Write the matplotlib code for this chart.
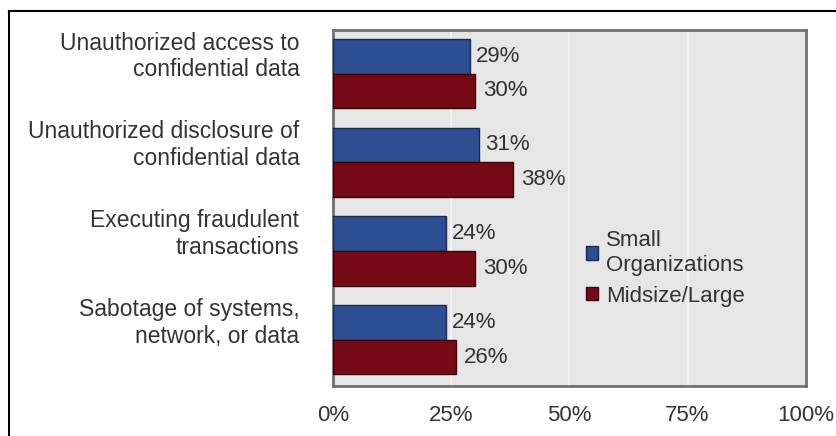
import numpy as np
import matplotlib.pyplot as plt
from matplotlib.lines import Line2D

plt.rcParams['font.family'] = ['Liberation Sans', 'DejaVu Sans']

categories = ['Unauthorized access to\nconfidential data',
              'Unauthorized disclosure of\nconfidential data',
              'Executing fraudulent\ntransactions',
              'Sabotage of systems,\nnetwork, or data']
small = [29, 31, 24, 24]
midsize = [30, 38, 30, 26]
ticks = [0, 25, 50, 75, 100]
tick_labels = ['0%', '25%', '50%', '75%', '100%']

blue = '#2d4e92'
red = '#750a15'

fig = plt.figure(figsize=(8.36, 4.36), dpi=100)
ax = fig.add_axes([0.398, 0.115, 0.566, 0.816])
ax.set_facecolor('#e6e6e6')

y = np.arange(len(categories))
h = 0.39
b1 = ax.barh(y - h / 2, small, height=h, color=blue, edgecolor='#1a2a50', linewidth=1, label='Small\nOrganizations', zorder=3)
b2 = ax.barh(y + h / 2, midsize, height=h, color=red, edgecolor='#3a0508', linewidth=1, label='Midsize/Large', zorder=3)
ax.bar_label(b1, labels=[f'{v}%' for v in small], padding=4, fontsize=16, color='#333333')
ax.bar_label(b2, labels=[f'{v}%' for v in midsize], padding=6, fontsize=16, color='#333333')

ax.set_xlim(0, 100)
ax.set_ylim(3.52, -0.49)
ax.set_xticks(ticks)
ax.set_xticklabels(tick_labels, fontsize=16, color='#333333')
# category labels sit a bit above the middle of each pair
ax.set_yticks(y - 0.24)
ax.set_yticklabels(categories, fontsize=16.5, color='#333333', linespacing=1.2)
ax.tick_params(length=0, pad=24, axis='y')
ax.tick_params(length=0, pad=14, axis='x')
ax.xaxis.grid(True, color='#f8f8f8', linewidth=1.2, zorder=0)
for s in ax.spines.values():
    s.set_color('#707070')
    s.set_linewidth(2)

ax.legend(loc='center left', bbox_to_anchor=(0.535, 0.33), frameon=False, fontsize=16,
          handlelength=0.55, handleheight=0.55, handletextpad=0.35, labelspacing=0.45,
          borderpad=0, borderaxespad=0, labelcolor='#333333')

fig.add_artist(Line2D([0.0108, 1], [0.975, 0.975], color='black', linewidth=1.5, transform=fig.transFigure))
fig.add_artist(Line2D([0.0108, 0.0108], [0, 0.975], color='black', linewidth=1.5, transform=fig.transFigure))

fig.savefig('out.png', dpi=100)
